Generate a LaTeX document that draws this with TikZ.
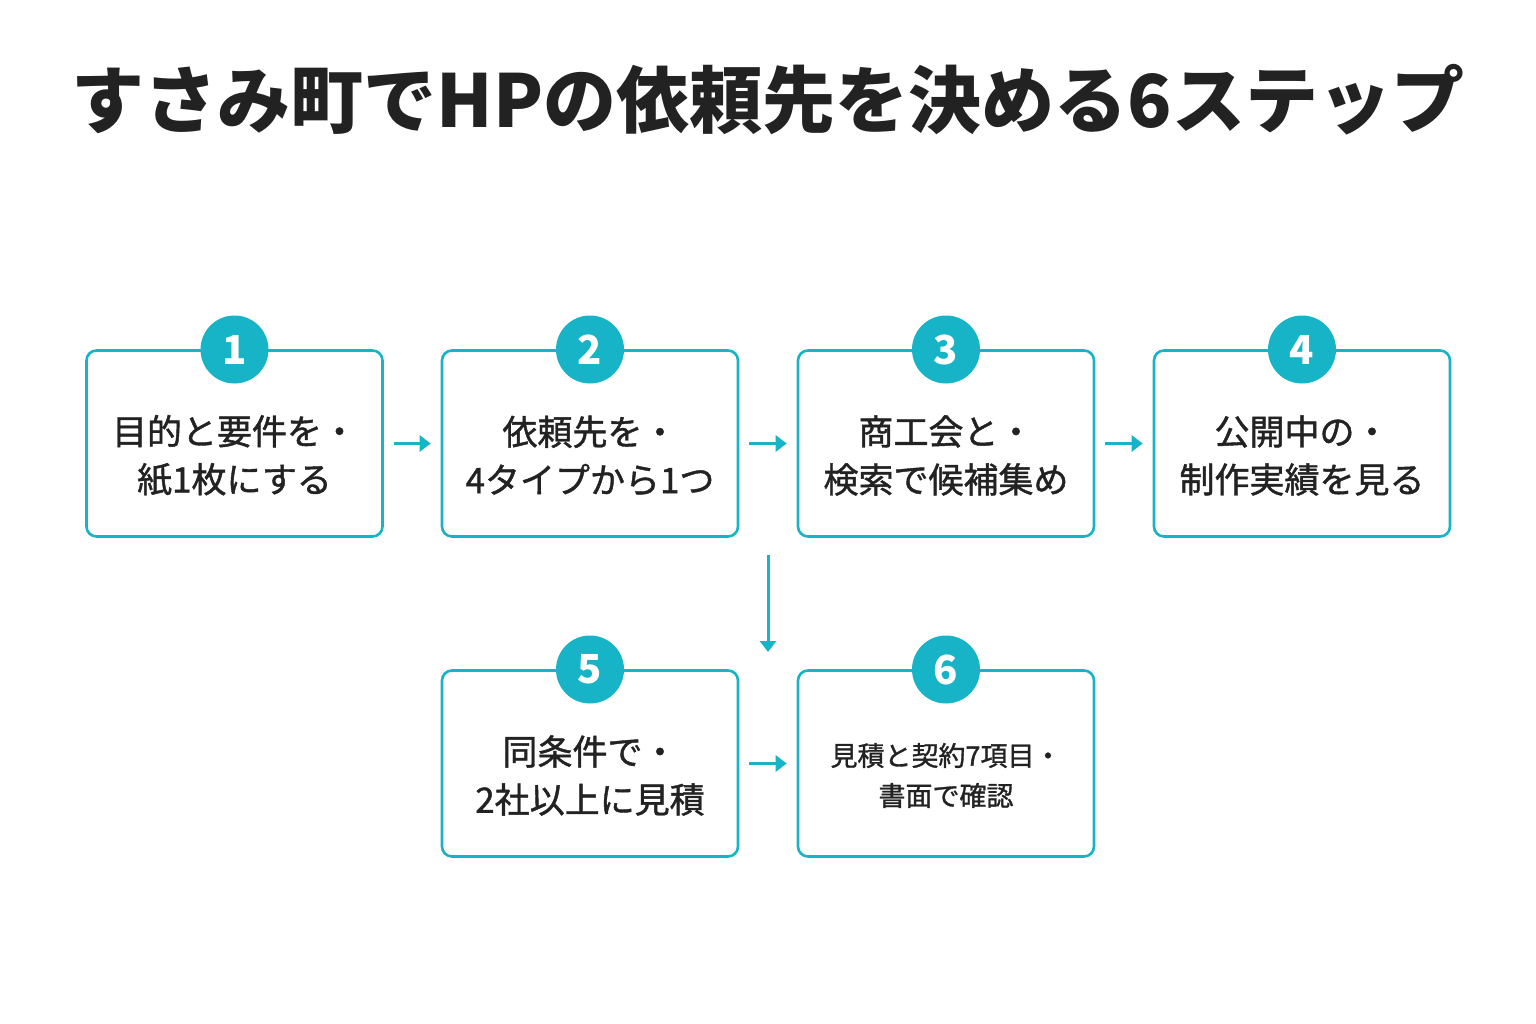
\documentclass[tikz,border=0pt]{standalone}
\usepackage{fontspec}
\newfontfamily\cjk{Noto Sans CJK JP}
\newfontfamily\cjkm{Noto Sans CJK JP}[FakeBold=1.2]
\usetikzlibrary{arrows.meta}
\definecolor{teal}{HTML}{17B3C6}
\definecolor{ink}{HTML}{222222}
\begin{document}
\begin{tikzpicture}[x=1pt,y=-1pt,
 box/.style={draw=teal,line width=2.6pt,rounded corners=10pt,minimum width=296pt,minimum height=186pt,inner sep=0pt},
 txt/.style={font=\cjkm\fontsize{35}{48}\selectfont,text=ink,align=center},
 num/.style={circle,fill=teal,minimum size=68pt,inner sep=0pt,text=white,font=\cjk\bfseries\fontsize{40}{40}\selectfont},
 arr/.style={draw=teal,line width=3pt,-{Triangle[length=11pt,width=16pt]}}]
\useasboundingbox (0,0) rectangle (1536,1024);
\node[font=\cjk\bfseries\fontsize{73}{73}\selectfont,text=ink] (title) at (768,100) {すさみ町でHPの依頼先を決める6ステップ};
\foreach \n/\x/\y in {1/234.5/443.5,2/590/443.5,3/946/443.5,4/1302/443.5,5/590/763.5,6/946/763.5}{
 \node[box] (b\n) at (\x,\y) {};
 \node[num] (c\n) at (\x,\y-94) {\n};
}
\node[txt] (t1) at ([yshift=-12pt]b1) {目的と要件を・\\紙1枚にする};
\node[txt] (t2) at ([yshift=-12pt]b2) {依頼先を・\\4タイプから1つ};
\node[txt] (t3) at ([yshift=-12pt]b3) {商工会と・\\検索で候補集め};
\node[txt] (t4) at ([yshift=-12pt]b4) {公開中の・\\制作実績を見る};
\node[txt] (t5) at ([yshift=-12pt]b5) {同条件で・\\2社以上に見積};
\node[txt,font=\cjkm\fontsize{27}{40}\selectfont] (t6) at ([yshift=-12pt]b6) {見積と契約7項目・\\書面で確認};
\draw[arr] ([xshift=10pt]b1.east) -- ([xshift=-10pt]b2.west);
\draw[arr] ([xshift=10pt]b2.east) -- ([xshift=-10pt]b3.west);
\draw[arr] ([xshift=10pt]b3.east) -- ([xshift=-10pt]b4.west);
\draw[arr] ([xshift=10pt]b5.east) -- ([xshift=-10pt]b6.west);
\coordinate (d1) at (768,555);
\coordinate (d2) at (768,652);
\draw[arr] (d1) -- (d2);
\end{tikzpicture}
\end{document}
